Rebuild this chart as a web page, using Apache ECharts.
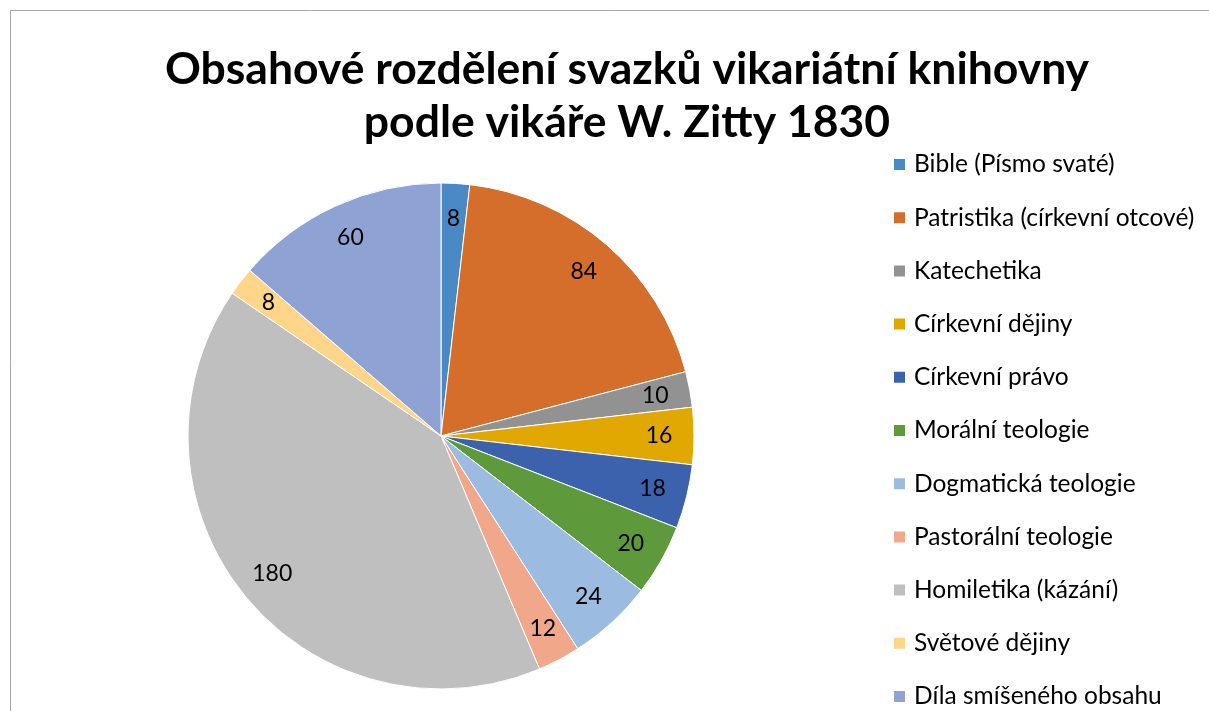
<!DOCTYPE html>
<html>
<head>
<meta charset="utf-8">
<script src="https://cdn.jsdelivr.net/npm/echarts@6/dist/echarts.min.js"></script>
<style>
  html, body { margin: 0; padding: 0; background: #fff; }
  #main { width: 1209px; height: 711px; }
</style>
</head>
<body>
<div id="main"></div>
<script>
// data
var categories = ['Bible (Písmo svaté)', 'Patristika (církevní otcové)', 'Katechetika', 'Církevní dějiny',
  'Církevní právo', 'Morální teologie', 'Dogmatická teologie', 'Pastorální teologie',
  'Homiletika (kázání)', 'Světové dějiny', 'Díla smíšeného obsahu'];
var volumes = [8, 84, 10, 16, 18, 20, 24, 12, 180, 8, 60];
var colors = ['#4a89c4', '#d46e2a', '#929292', '#e0a800', '#3d62ad', '#5e9a3c',
  '#9bbbe0', '#f1a78a', '#bfbfbf', '#ffd58a', '#8fa2d4'];

var FONT = 'Lato';
var LEGEND_FS = 24.5;

var chart = echarts.init(document.getElementById('main'), null, { renderer: 'canvas' });

var pieData = categories.map(function (name, i) {
  return { name: name, value: volumes[i], itemStyle: { color: colors[i] } };
});

var option = {
  animation: false,
  title: {
    text: 'Obsahové rozdělení svazků vikariátní knihovny\npodle vikáře W. Zitty 1830',
    left: 627,
    top: 43,
    padding: 0,
    textAlign: 'center',
    textStyle: { fontFamily: FONT, fontWeight: 'bold', fontSize: 44.5, lineHeight: 53, color: '#000' }
  },
  legend: {
    orient: 'vertical',
    left: 892,
    top: 152,
    height: 800,   // tall box so the list never wraps into a second column
    padding: 0,
    itemWidth: 13,
    itemHeight: 13,
    itemGap: 52.7 - LEGEND_FS,
    icon: 'rect',
    selectedMode: false,
    textStyle: { fontFamily: FONT, fontSize: LEGEND_FS, color: '#000', padding: [0, 0, 0, 3] },
    data: categories
  },
  graphic: [{
    type: 'rect',
    shape: { x: 10.5, y: 10.5, width: 1220, height: 720 },
    style: { fill: 'none', stroke: '#a6a6a6', lineWidth: 1 },
    silent: true
  }],
  series: [
    {
      type: 'pie',
      center: [441, 436],
      radius: [0, 253],
      startAngle: 90,
      clockwise: true,
      label: { show: false },
      labelLine: { show: false },
      itemStyle: { borderColor: '#fff', borderWidth: 1 },
      emphasis: { disabled: true },
      data: pieData
    },
    {
      // transparent ring only to place the value labels at ~0.85 r
      type: 'pie',
      center: [441, 436],
      radius: [177, 253],
      startAngle: 90,
      clockwise: true,
      silent: true,
      legendHoverLink: false,
      itemStyle: { color: 'rgba(0,0,0,0)', borderWidth: 0 },
      label: {
        show: true,
        position: 'inside',
        formatter: '{c}',
        fontFamily: FONT,
        fontSize: 23,
        color: '#000'
      },
      labelLine: { show: false },
      emphasis: { disabled: true },
      data: categories.map(function (name, i) { return { name: name, value: volumes[i] }; })
    }
  ]
};

chart.setOption(option);
</script>
</body>
</html>
